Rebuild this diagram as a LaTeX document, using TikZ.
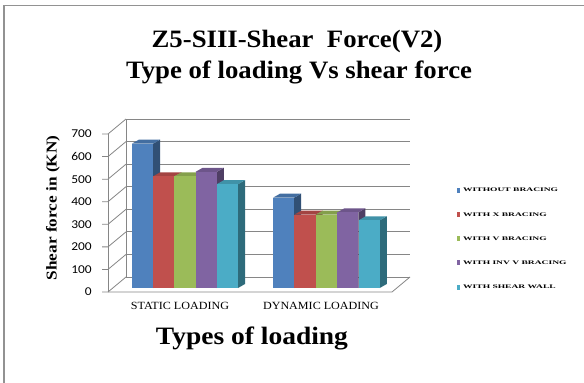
\documentclass[tikz,border=0pt]{standalone}
\usepackage{fontspec}
\setmainfont{Liberation Serif}
\newfontfamily\tickfont{Carlito}
\definecolor{cb}{HTML}{4F81BD}
\definecolor{cr}{HTML}{C0504D}
\definecolor{cg}{HTML}{9BBB59}
\definecolor{cp}{HTML}{8064A2}
\definecolor{cc}{HTML}{4BACC6}
\definecolor{gridc}{HTML}{868686}
\tikzset{
  gridline/.style={draw=gridc, line width=0.8pt},
  ticklbl/.style={anchor=east, font=\tickfont\fontsize{12}{12}\selectfont, inner sep=0pt},
  catlbl/.style={font=\fontsize{11}{11}\selectfont, inner sep=0pt},
  leglbl/.style={anchor=west, inner sep=0pt, font=\bfseries\fontsize{5.5}{5.5}\selectfont},
  titlefont/.style={font=\bfseries\fontsize{25}{32}\selectfont, inner sep=0pt, align=center}
}
\begin{document}
\begin{tikzpicture}[x=1pt,y=-1pt]
\useasboundingbox (0,0) rectangle (584,383);
\begin{scope}
\clip (0,0) rectangle (584,383);
\draw[draw=gridc!90, line width=1.6pt] (4,5.5) rectangle (600,400);
\end{scope}
% title
\node[titlefont] (title1) at (297,41) {\scalebox{1.07}[1]{Z5-SIII-Shear\ \ Force(V2)}};
\node[titlefont] (title2) at (299,72) {\scalebox{1.07}[1]{Type of loading Vs shear force}};
% back wall grid lines
\foreach \k in {0,...,7} {
  \draw[gridline] (126,{277-22.57*\k}) -- (410,{277-22.57*\k});
  \draw[gridline] (102,{292-22.57*\k}) -- (108,{292-22.57*\k}) -- (126,{277-22.57*\k});
  \node[ticklbl] (t\k) at (92,{292-22.57*\k}) {\scalebox{1.12}[1]{\number\numexpr\k*100\relax}};
}
\draw[gridline] (108,292) -- (108,134);
\draw[gridline] (126,277) -- (126,119);
% floor
\draw[gridline] (108,292) -- (392,292) -- (410,277);
% bars
\foreach \x/\h/\c in {132/144.4/cb,153.2/111.7/cr,174.4/111.7/cg,195.6/116.2/cp,216.8/103.8/cc,
                      273/90.3/cb,294.4/73.4/cr,315.8/73.4/cg,337.2/75.6/cp,358.6/67.7/cc} {
  \fill[\c!62!black] ({\x+21.2},288) -- ({\x+28.2},284) -- ({\x+28.2},{284-\h}) -- ({\x+21.2},{288-\h}) -- cycle;
  \fill[\c!85!black] (\x,{288-\h}) -- ({\x+21.2},{288-\h}) -- ({\x+28.2},{284-\h}) -- ({\x+7},{284-\h}) -- cycle;
  \fill[\c] (\x,288) rectangle ({\x+21.2},{288-\h});
}
% category labels
\node[catlbl] (cat1) at (180,306) {\scalebox{1.1}[1]{STATIC LOADING}};
\node[catlbl] (cat2) at (321,306) {\scalebox{1.1}[1]{DYNAMIC LOADING}};
% axis titles
\node[font=\bfseries\fontsize{15}{15}\selectfont, rotate=90, inner sep=0pt] (ytitle) at (53,208) {\scalebox{1.15}[1]{Shear force in (KN)}};
\node[font=\bfseries\fontsize{25}{25}\selectfont, inner sep=0pt] (xtitle) at (252,338) {\scalebox{1.1}[1]{Types of loading}};
% legend
\foreach \i/\c/\t in {0/cb/WITHOUT BRACING,1/cr/WITH X BRACING,2/cg/WITH V BRACING,3/cp/WITH INV V BRACING,4/cc/WITH SHEAR WALL} {
  \fill[\c] (457,{187.5+24.3*\i}) rectangle (460,{192.5+24.3*\i});
  \node[leglbl] (leg\i) at (463,{190+24.3*\i}) {\scalebox{1.73}[1]{\t}};
}
\end{tikzpicture}
\end{document}
